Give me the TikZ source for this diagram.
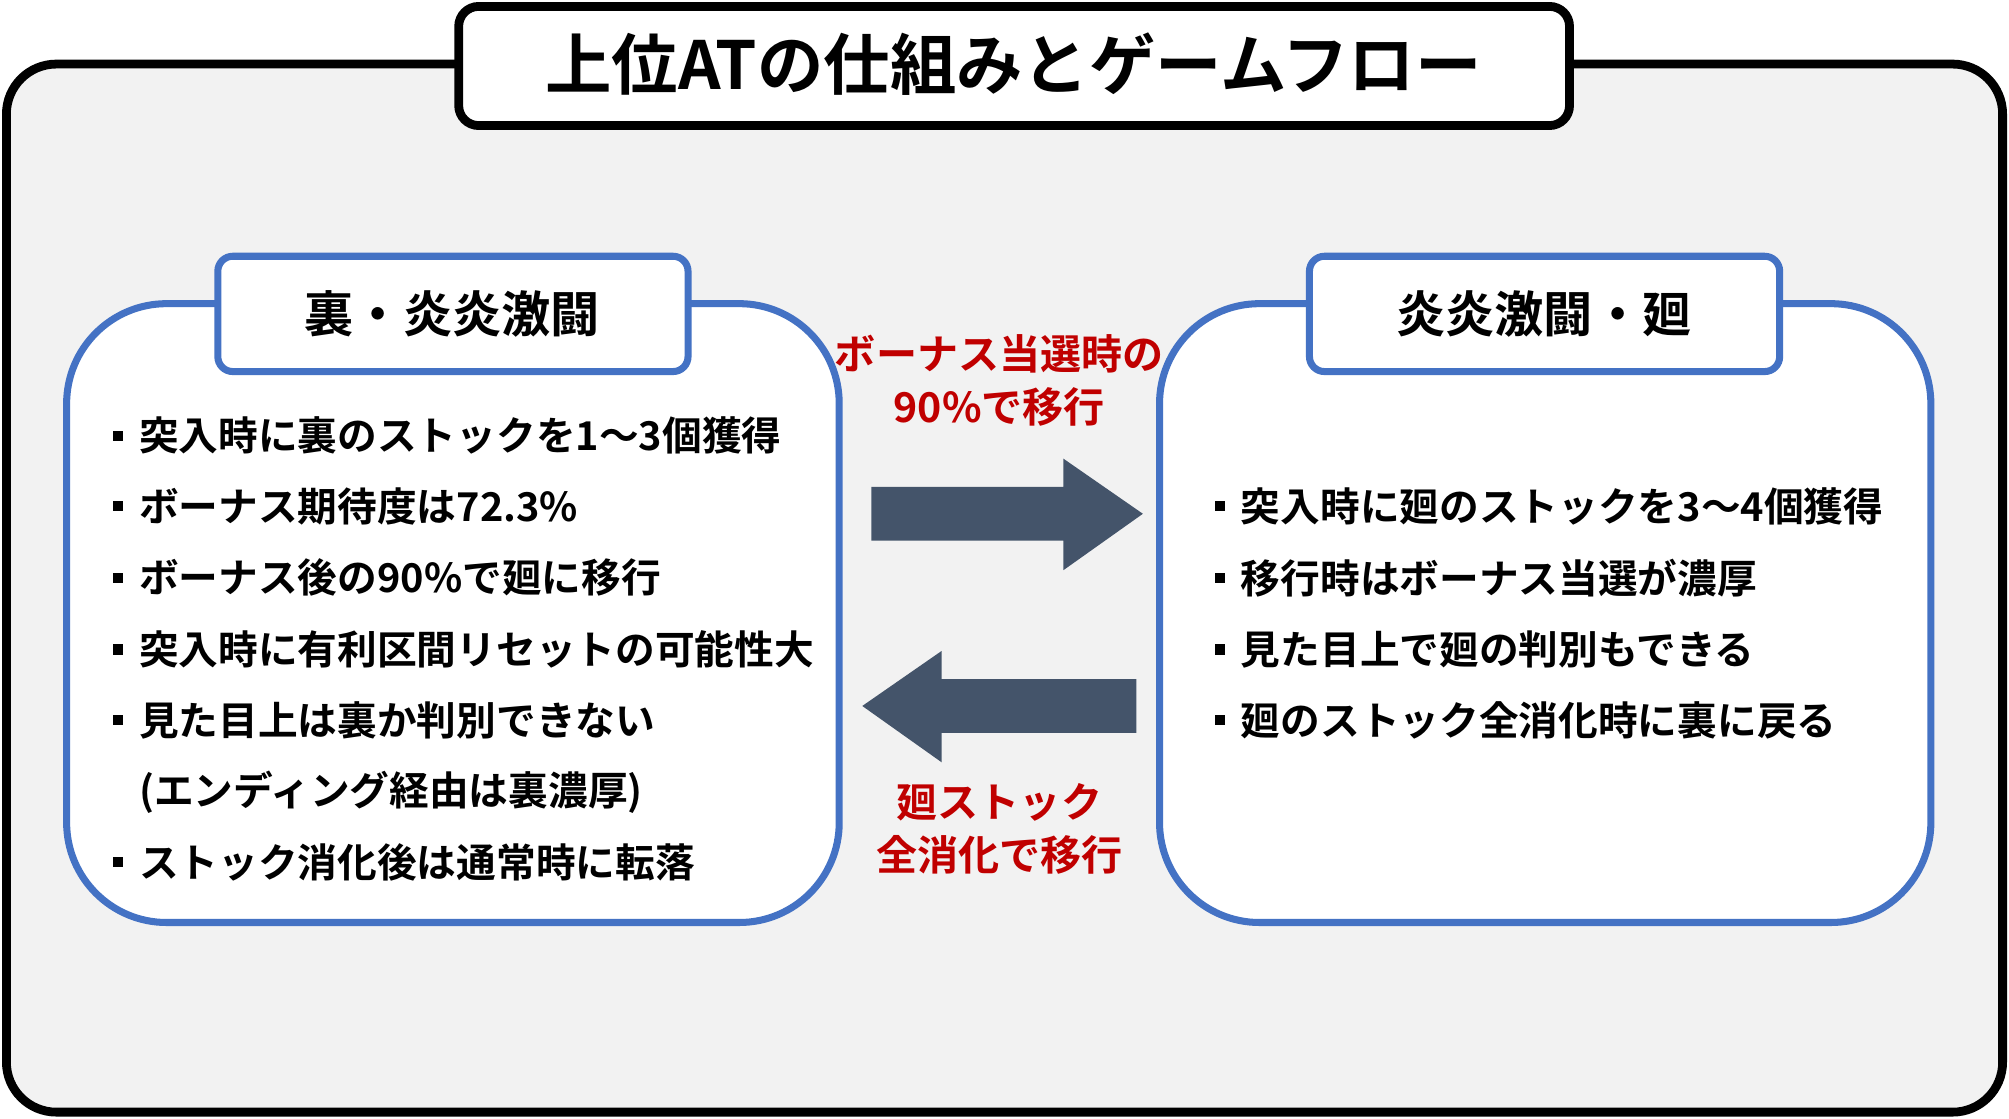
\documentclass[tikz,border=0pt]{standalone}
\usepackage{fontspec}
\setmainfont{Noto Sans CJK JP}[BoldFont={Noto Sans CJK JP Bold}]
\usetikzlibrary{positioning}
\definecolor{panelblue}{HTML}{4472C4}
\definecolor{arrowgray}{HTML}{44546A}
\definecolor{notered}{HTML}{C00000}
\definecolor{bggray}{HTML}{F2F2F2}

\begin{document}
\begin{tikzpicture}[
    x=0.01281cm, y=-0.01281cm,
    font=\bfseries,
    panel/.style={draw=panelblue, line width=2pt, fill=white, rounded corners=1cm},
    tab/.style={draw=panelblue, line width=2pt, fill=white, rounded corners=0.15cm},
    tabtext/.style={font={\bfseries\fontsize{14pt}{16pt}\selectfont}},
    item/.style={anchor=west, inner sep=0pt, font={\bfseries\fontsize{11.3pt}{13pt}\selectfont}},
    note/.style={align=center, text=notered, font={\bfseries\fontsize{11.7pt}{15pt}\selectfont}},
    flow/.style={fill=arrowgray}
]
\useasboundingbox (0,0) rectangle (1568,873);

% Frame and title
\draw[line width=2.5pt, fill=bggray, rounded corners=0.5cm] (5,50) rectangle (1563,868);
\draw[line width=2.5pt, fill=white, rounded corners=0.2cm] (358,5) rectangle (1225,98);
\node (title) at (791,50) {\fontsize{18.9pt}{21pt}\selectfont 上位ATの仕組みとゲームフロー};

% Panels
\draw[panel] (52,237) rectangle (655,720);
\draw[tab] (170,200) rectangle (537,290);
\node[tabtext] (ltab) at (353,245) {裏・炎炎激闘};
\draw[panel] (905,237) rectangle (1507,720);
\draw[tab] (1022,200) rectangle (1389,290);
\node[tabtext] (rtab) at (1205,245) {炎炎激闘・廻};

% Left items
\foreach \y/\t/\b [count=\i] in {340/突入時に裏のストックを1〜3個獲得/1,
    395/ボーナス期待度は72.3\%/1,
    451/ボーナス後の90\%で廻に移行/1,
    507/突入時に有利区間リセットの可能性大/1,
    562/見た目上は裏か判別できない/1,
    618/(エンディング経由は裏濃厚)/0,
    673/ストック消化後は通常時に転落/1}{
  \node[item] (l\i) at (108,\y) {\t};
  \ifnum\b=1 \fill (88,\y-4) rectangle (96,\y+4); \fi
}

% Right items
\foreach \y/\t [count=\i] in {395/突入時に廻のストックを3〜4個獲得,
    451/移行時はボーナス当選が濃厚,
    507/見た目上で廻の判別もできる,
    562/廻のストック全消化時に裏に戻る}{
  \node[item] (r\i) at (968,\y) {\t};
  \fill (948,\y-4) rectangle (956,\y+4);
}

% Arrows
\fill[flow] (680,380) -- (830,380) -- (830,358) -- (892,401) -- (830,445) -- (830,422) -- (680,422) -- cycle;
\fill[flow] (887,530) -- (735,530) -- (735,508) -- (673,551) -- (735,595) -- (735,572) -- (887,572) -- cycle;
\node[note] (upnote) at (780,297) {ボーナス当選時の\\90\%で移行};
\node[note] (downnote) at (780,647) {廻ストック\\全消化で移行};
\end{tikzpicture}
\end{document}
